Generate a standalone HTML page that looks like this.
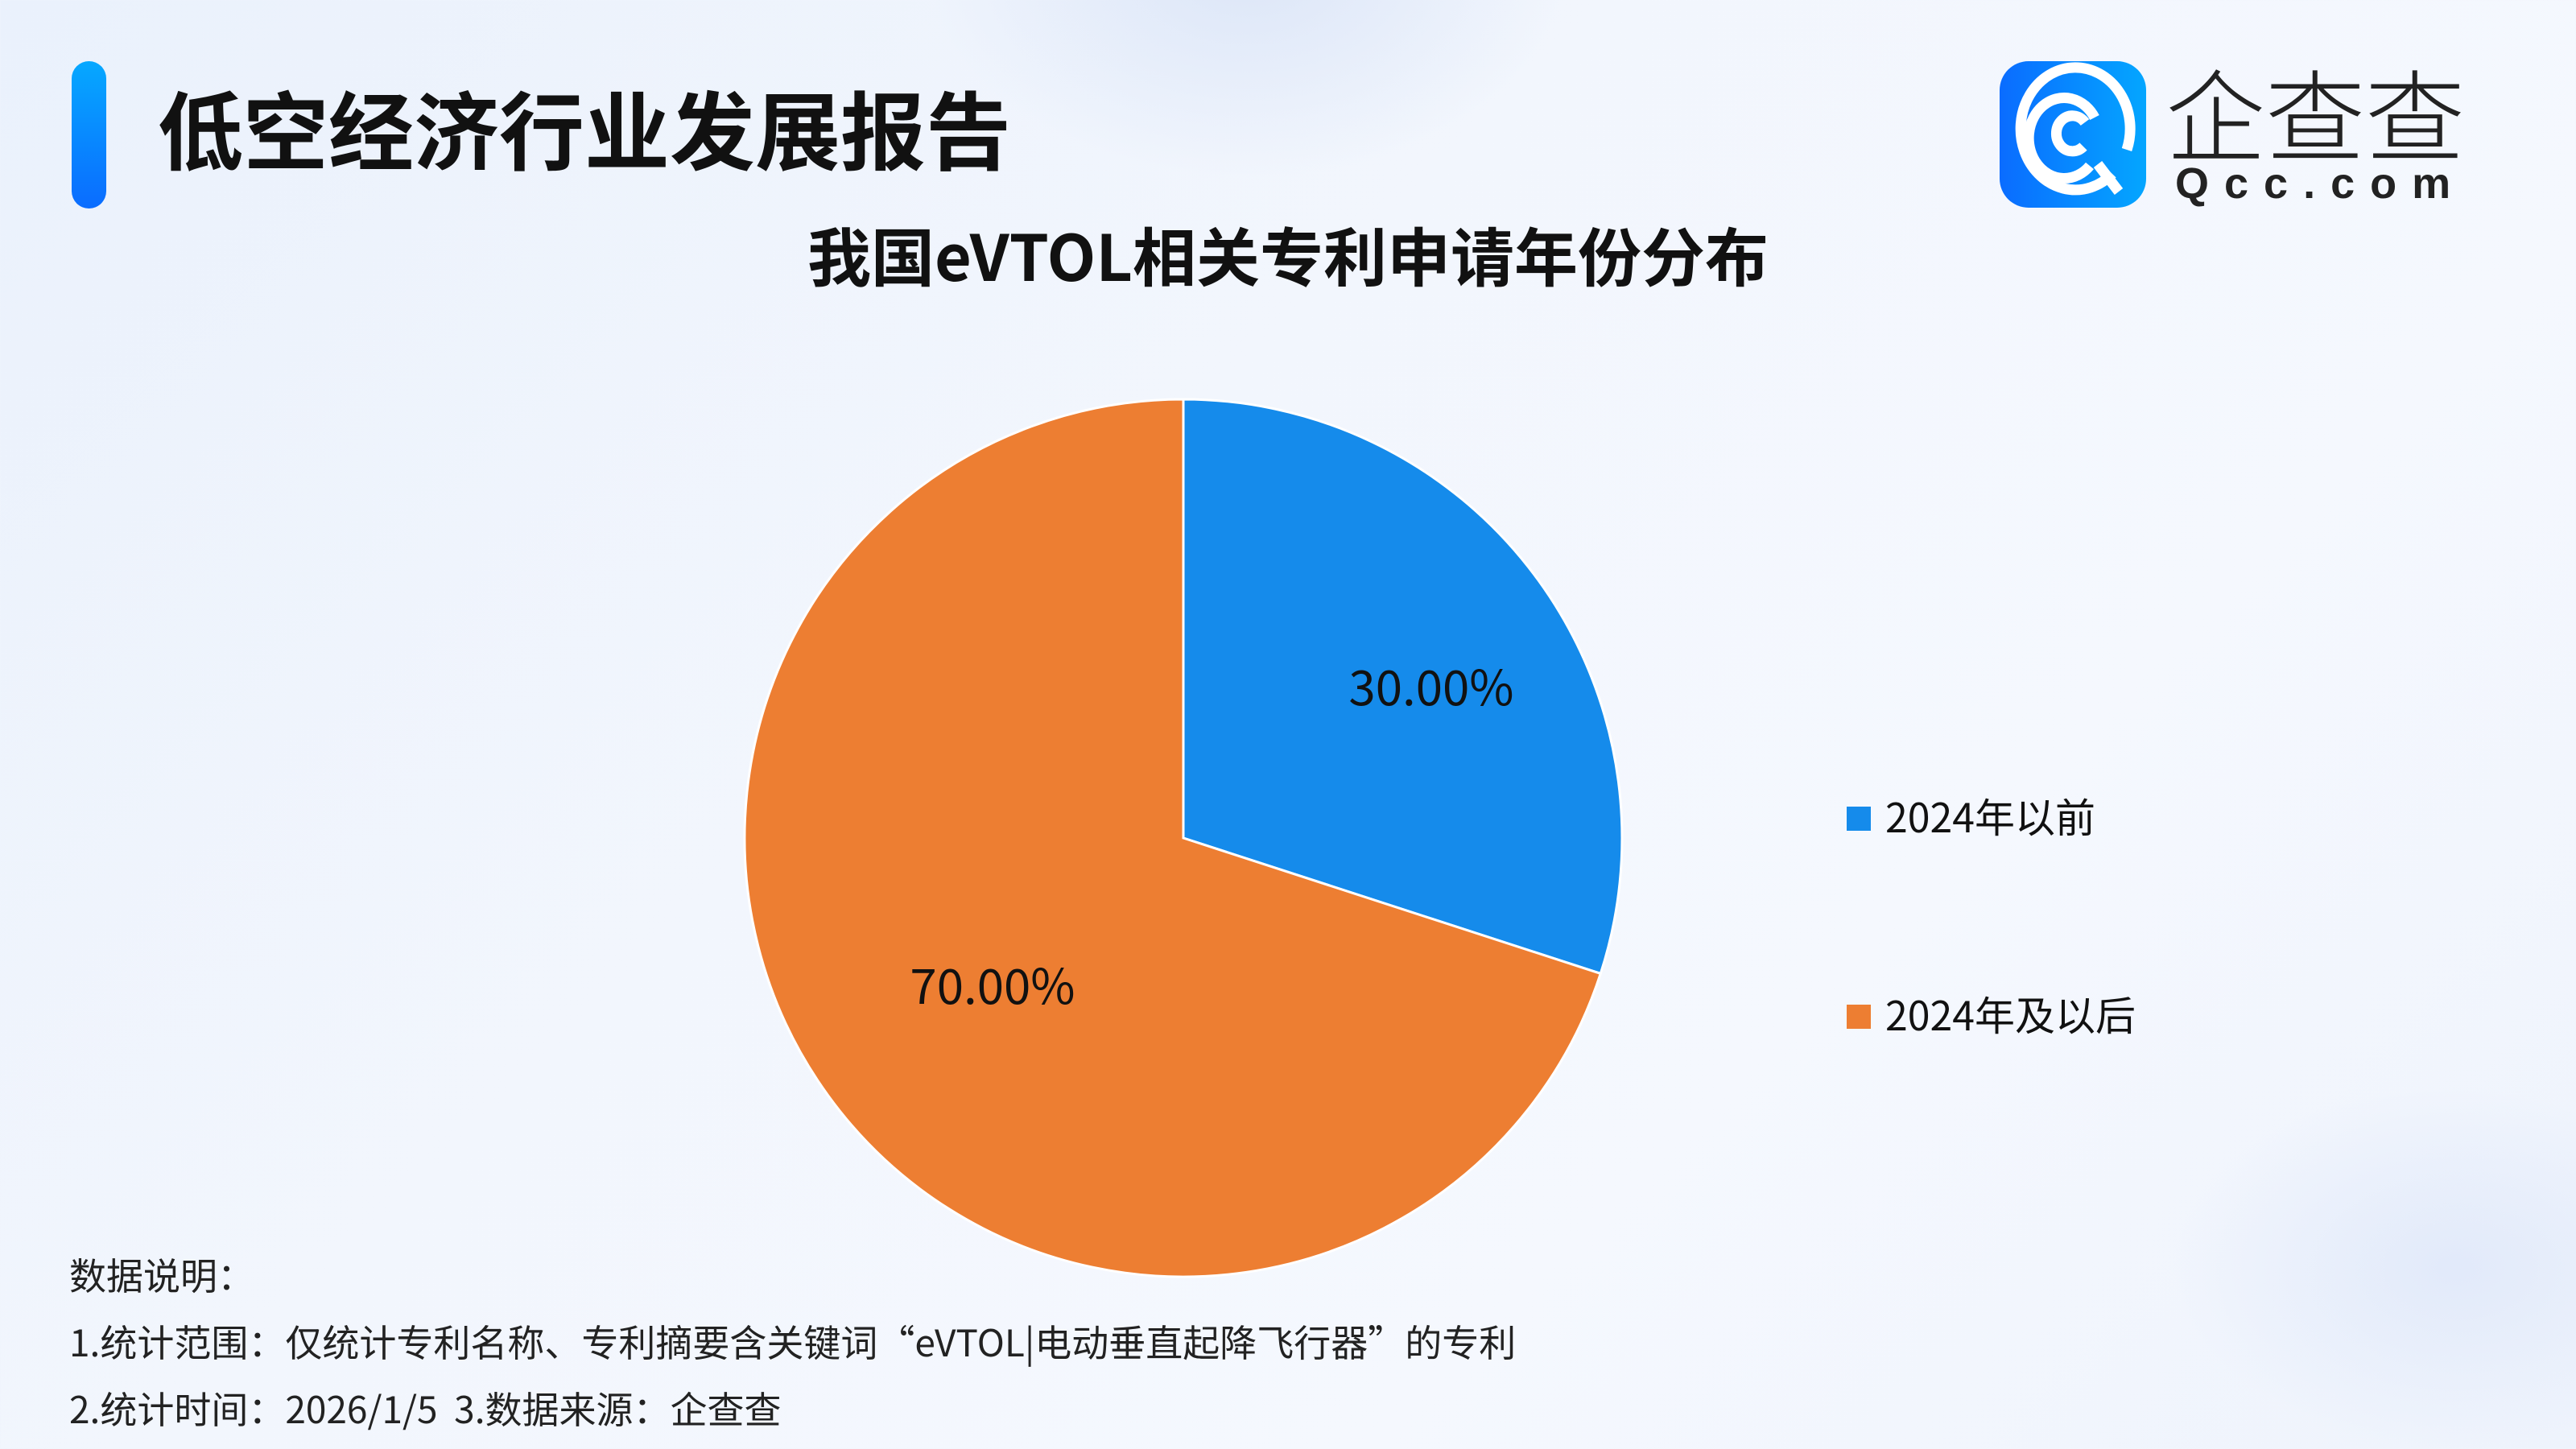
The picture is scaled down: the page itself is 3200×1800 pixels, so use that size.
<!DOCTYPE html>
<html><head><meta charset="utf-8"><style>
html,body{margin:0;padding:0;width:3200px;height:1800px;overflow:hidden}
body{position:relative;
background:linear-gradient(135deg,#eaf1fc 0%,#f2f6fd 40%,#f5f8fe 70%,#eef3fc 100%);
font-family:"Noto Sans CJK SC","Liberation Sans",sans-serif;color:#111}
.glow{position:absolute;border-radius:50%}
.t{position:absolute;white-space:nowrap}
</style></head><body>
<div class="glow" style="left:1150px;top:-300px;width:800px;height:520px;background:radial-gradient(closest-side,rgba(215,226,246,0.8),rgba(215,226,246,0))"></div>
<div class="glow" style="left:2700px;top:1350px;width:700px;height:450px;background:radial-gradient(closest-side,rgba(222,231,249,0.8),rgba(222,231,249,0))"></div>
<div style="position:absolute;left:89px;top:76px;width:43px;height:183px;border-radius:22px;background:linear-gradient(180deg,#06a8ff,#0a6cff)"></div>
<div class="t" style="left:196px;top:92px;font-size:106px;font-weight:bold;line-height:130px;letter-spacing:0px">低空经济行业发展报告</div>

<svg style="position:absolute;left:2484px;top:76px" width="182" height="182" viewBox="0 0 182 182">
<defs><linearGradient id="lg" x1="0" x2="1"><stop offset="0" stop-color="#0a6cff"/><stop offset="1" stop-color="#04a6ff"/></linearGradient></defs>
<rect width="182" height="182" rx="36" fill="url(#lg)"/>
<g fill="none" stroke="#fff" stroke-width="13" stroke-linecap="butt">
<path d="M140 140 A68 76 0 1 1 158 110"/>
<path d="M112 130 A44 50 0 1 1 118 70"/>
<path d="M104 106 A20 22 0 1 1 106 76"/>
<path d="M122 128 L148 162"/>
</g></svg>
<div class="t" style="left:2690px;top:62px;font-size:124px;line-height:150px;color:#222;font-weight:300">企查查</div>
<div class="t" style="left:2702px;top:198px;font-size:54px;line-height:60px;color:#222;font-weight:bold;letter-spacing:19px;font-family:'Liberation Sans',sans-serif">Qcc.com</div>

<div class="t" style="left:0;width:3200px;text-align:center;top:260px;font-size:79px;line-height:110px;font-weight:bold">我国eVTOL相关专利申请年份分布</div>

<svg style="position:absolute;left:0;top:0" width="3200" height="1800" font-family="Noto Sans CJK SC,Liberation Sans,sans-serif">
<path d="M1470 1041 L1470 496 A545 545 0 0 1 1988.3 1209.4 Z" fill="#158beb" stroke="#fff" stroke-width="3"/>
<path d="M1470 1041 L1988.3 1209.4 A545 545 0 1 1 1470 496 Z" fill="#ed7e32" stroke="#fff" stroke-width="3"/>
<text x="1778" y="876" font-size="60" text-anchor="middle" fill="#111">30.00%</text>
<text x="1233" y="1247" font-size="60" text-anchor="middle" fill="#111">70.00%</text>
<rect x="2294" y="1002" width="30" height="30" fill="#158beb"/>
<rect x="2294" y="1248" width="30" height="30" fill="#ed7e32"/>
<text x="2342" y="1034" font-size="50" fill="#111">2024年以前</text>
<text x="2342" y="1280" font-size="50" fill="#111">2024年及以后</text>
</svg>

<div class="t" style="left:86px;top:1550px;font-size:46px;line-height:66px;color:#222">数据说明：</div>
<div class="t" style="left:86px;top:1633px;font-size:46px;line-height:66px;color:#222">1.统计范围：仅统计专利名称、专利摘要含关键词“eVTOL|电动垂直起降飞行器”的专利</div>
<div class="t" style="left:86px;top:1716px;font-size:46px;line-height:66px;color:#222">2.统计时间：2026/1/5&nbsp;&nbsp;3.数据来源：企查查</div>
</body></html>
